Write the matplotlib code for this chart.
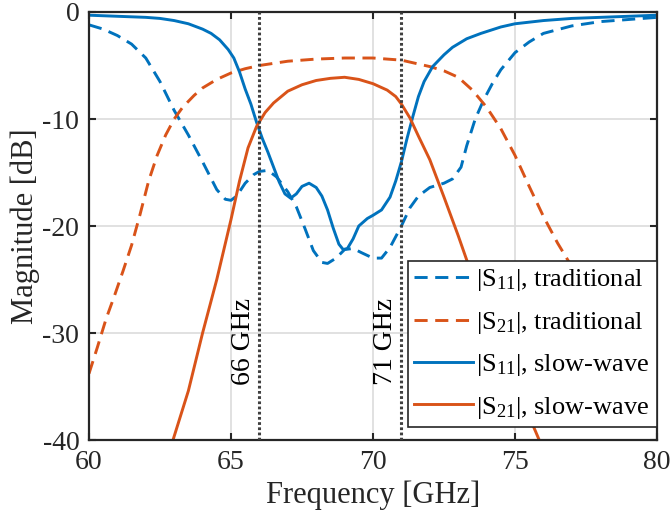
import matplotlib
matplotlib.use("Agg")
import matplotlib.pyplot as plt

# --------------------------------------------------------------------------- #
# Data
# --------------------------------------------------------------------------- #
f_s11_trad = [60, 60.5, 61, 61.5, 62, 62.5, 63, 63.5, 64, 64.5, 64.8, 65.0, 65.2,
              65.5, 65.8, 66.0, 66.3, 66.6, 67.0, 67.3, 67.6, 67.9, 68.2, 68.4,
              68.7, 69.0, 69.3, 69.6, 70.0, 70.3, 70.6, 71.0, 71.3, 71.6, 72.0,
              72.5, 72.8, 73.1, 73.3, 73.6, 73.9, 74.2, 74.5, 75.0, 75.5, 76.0,
              77.0, 78.0, 79.0, 80.0]
s11_trad = [-1.2, -1.6, -2.2, -3.0, -4.3, -6.5, -9.2, -11.5, -14.0, -16.6, -17.5,
            -17.6, -17.2, -16.0, -15.2, -14.9, -14.8, -15.4, -16.8, -18.2, -20.2,
            -22.3, -23.4, -23.5, -23.0, -22.2, -22.1, -22.5, -23.0, -23.0, -22.0,
            -20.0, -18.3, -17.2, -16.4, -16.0, -15.6, -14.5, -12.5, -10.0, -8.2,
            -6.7, -5.4, -3.8, -2.8, -2.0, -1.3, -0.9, -0.7, -0.5]

f_s21_trad = [60, 60.3, 60.6, 60.9, 61.2, 61.5, 61.8, 62.1, 62.4, 62.7, 63.0, 63.3,
              63.7, 64.0, 64.5, 65.0, 65.5, 66.0, 67.0, 68.0, 69.0, 70.0, 70.5,
              71.0, 71.5, 72.0, 72.5, 73.0, 73.5, 74.0, 74.5, 75.0, 75.5, 76.0,
              76.5, 77.0, 77.5, 78.0, 78.5, 79.0, 79.5, 80.0]
s21_trad = [-33.8, -31.3, -28.7, -26.5, -24.2, -21.8, -18.9, -15.8, -13.4, -11.5,
            -10.0, -8.9, -7.8, -7.1, -6.3, -5.7, -5.3, -5.0, -4.6, -4.4, -4.3,
            -4.3, -4.4, -4.5, -4.8, -5.1, -5.5, -6.1, -7.3, -8.9, -10.9, -13.4,
            -16.3, -19.1, -21.6, -23.8, -25.8, -27.7, -29.6, -31.4, -33.2, -35.0]

f_s11_sw = [60, 61, 62, 62.5, 63, 63.5, 64, 64.3, 64.6, 64.9, 65.1, 65.3, 65.5,
            65.7, 65.9, 66.1, 66.3, 66.5, 66.7, 66.9, 67.1, 67.3, 67.5, 67.75,
            68.0, 68.2, 68.4, 68.6, 68.8, 68.95, 69.1, 69.3, 69.5, 69.8, 70.0,
            70.3, 70.6, 70.8, 71.0, 71.2, 71.4, 71.6, 71.8, 72.1, 72.5, 72.8,
            73.3, 73.8, 74.5, 75.0, 76.0, 77.0, 78.0, 79.0, 80.0]
s11_sw = [-0.3, -0.4, -0.5, -0.6, -0.8, -1.1, -1.6, -2.0, -2.6, -3.5, -4.3, -5.6,
          -7.2, -8.6, -10.3, -11.8, -13.1, -14.5, -15.9, -17.0, -17.4, -17.0,
          -16.3, -16.0, -16.4, -17.2, -18.5, -20.2, -21.7, -22.2, -22.1, -21.2,
          -20.0, -19.3, -19.0, -18.5, -17.3, -15.8, -14.0, -11.8, -9.8, -7.9,
          -6.5, -5.1, -4.0, -3.3, -2.5, -2.0, -1.4, -1.1, -0.8, -0.6, -0.5,
          -0.4, -0.3]

f_s21_sw = [62.9, 63.5, 64.0, 64.5, 65.0, 65.3, 65.6, 65.9, 66.2, 66.5, 67.0, 67.5,
            68.0, 68.5, 69.0, 69.5, 70.0, 70.5, 70.8, 71.0, 71.3, 71.6, 72.0,
            72.5, 73.0, 73.5, 74.0, 74.5, 75.0, 75.5, 75.9]
s21_sw = [-40.5, -35.4, -30.0, -25.0, -19.4, -15.8, -12.7, -10.7, -9.4, -8.5,
          -7.4, -6.8, -6.4, -6.2, -6.1, -6.3, -6.7, -7.3, -7.9, -8.6, -9.9,
          -11.6, -13.8, -17.3, -20.9, -24.7, -28.5, -31.8, -34.8, -37.8, -40.3]

band_edges = [66, 71]
band_labels = ["66 GHz", "71 GHz"]

# --------------------------------------------------------------------------- #
# Plot
# --------------------------------------------------------------------------- #
plt.rcParams["font.family"] = ["Liberation Serif", "DejaVu Serif"]
plt.rcParams["mathtext.fontset"] = "custom"
plt.rcParams["mathtext.rm"] = "Liberation Serif"
plt.rcParams["mathtext.it"] = "Liberation Serif:italic"
plt.rcParams["axes.unicode_minus"] = False

BLUE = "#0072BD"
ORANGE = "#D95319"
DASH = (0, (4.5, 2.6))

fig = plt.figure(figsize=(6.72, 5.24), dpi=100)
ax = fig.add_axes([0.1324, 0.1603, 0.8453, 0.8168])

ax.plot(f_s11_trad, s11_trad, color=BLUE, lw=2.1, linestyle=DASH,
        label=r"|S$_{11}$|, traditional ")
ax.plot(f_s21_trad, s21_trad, color=ORANGE, lw=2.1, linestyle=DASH,
        label=r"|S$_{21}$|, traditional ")
ax.plot(f_s11_sw, s11_sw, color=BLUE, lw=2.1, label=r"|S$_{11}$|, slow-wave ")
ax.plot(f_s21_sw, s21_sw, color=ORANGE, lw=2.1, label=r"|S$_{21}$|, slow-wave ")

for fx, lab in zip(band_edges, band_labels):
    ax.axvline(fx, color="#404040", lw=2.2, linestyle=(0, (0.9, 0.8)), zorder=5)
    ax.text(fx - 0.12, -30.8, lab, rotation=90, ha="right", va="center",
            fontsize=20, zorder=6)

ax.set_xlim(60, 80)
ax.set_ylim(-40, 0)
ax.set_xticks([60, 65, 70, 75, 80])
ax.set_yticks([-40, -30, -20, -10, 0])
ax.grid(True, color="#DCDCDC", lw=1.2)
ax.set_axisbelow(True)
ax.tick_params(direction="in", length=5, width=1.5, top=True, right=True,
               labelsize=20, colors="#262626", pad=7)
for sp in ax.spines.values():
    sp.set_linewidth(1.6)
    sp.set_color("#262626")

ax.set_xlabel("Frequency [GHz]", fontsize=22, color="#262626", labelpad=4)
ax.set_ylabel("Magnitude [dB]", fontsize=22, color="#262626", labelpad=2)

leg = ax.legend(loc="lower right", bbox_to_anchor=(1.0, 0.03), borderaxespad=0,
                fontsize=19, handlelength=2.2, handletextpad=0.15,
                labelspacing=0.62, borderpad=0.25, fancybox=False,
                framealpha=1, edgecolor="#262626")
leg.get_frame().set_linewidth(1.2)

fig.savefig("out.png", dpi=100)
